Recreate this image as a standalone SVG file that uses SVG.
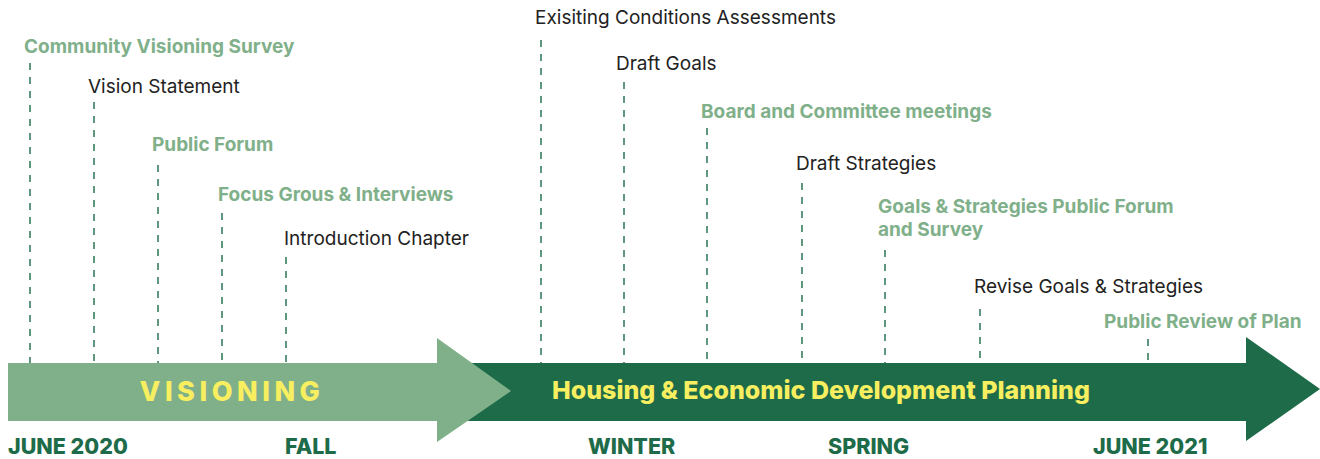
<svg xmlns="http://www.w3.org/2000/svg" width="1320" height="459" viewBox="0 0 1320 459">
<style>
.bg{fill:#ffffff}
.dash{stroke:#1d6b49;stroke-width:1.4;stroke-dasharray:7 7;fill:none}
.lb{font-family:Inter,"Noto Sans",sans-serif;font-size:19px;font-weight:700;fill:#80b08a}
.rg{font-family:Inter,"Noto Sans",sans-serif;font-size:19px;font-weight:400;fill:#222222}
.season{font-family:Inter,"Noto Sans",sans-serif;font-size:21.5px;font-weight:800;fill:#1d6b49}
.phase{font-family:Inter,"Noto Sans",sans-serif;font-weight:800;fill:#f7ee60}
</style>
<rect class="bg" x="0" y="0" width="1320" height="459"/>
<g id="arrow-planning">
<polygon points="440,363 1246,363 1246,337 1320,389 1246,441 1246,421 440,421" fill="#1d6b49"/>
<text class="phase" x="552" y="399" font-size="25">Housing &amp; Economic Development Planning</text>
</g>
<g id="arrow-visioning">
<polygon points="8,363 437,363 437,338 511,391 437,442 437,421 8,421" fill="#80b08a"/>
<text class="phase" x="232" y="401" font-size="27" letter-spacing="4.5" text-anchor="middle">VISIONING</text>
</g>
<g id="connectors">
<line class="dash" x1="30" y1="63" x2="30" y2="363"/>
<line class="dash" x1="94" y1="102" x2="94" y2="363"/>
<line class="dash" x1="158" y1="165" x2="158" y2="363"/>
<line class="dash" x1="222" y1="213" x2="222" y2="363"/>
<line class="dash" x1="286" y1="257" x2="286" y2="363"/>
<line class="dash" x1="541" y1="40" x2="541" y2="363"/>
<line class="dash" x1="624" y1="82" x2="624" y2="363"/>
<line class="dash" x1="707" y1="128" x2="707" y2="363"/>
<line class="dash" x1="802" y1="183" x2="802" y2="363"/>
<line class="dash" x1="885" y1="250" x2="885" y2="363"/>
<line class="dash" x1="980" y1="309" x2="980" y2="363"/>
<line class="dash" x1="1148" y1="339" x2="1148" y2="363"/>
</g>
<g id="m-community-survey"><text class="lb" x="24" y="53">Community Visioning Survey</text></g>
<g id="m-vision-statement"><text class="rg" x="88" y="93">Vision Statement</text></g>
<g id="m-public-forum"><text class="lb" x="152" y="151">Public Forum</text></g>
<g id="m-focus-groups"><text class="lb" x="218" y="201">Focus Grous &amp; Interviews</text></g>
<g id="m-introduction"><text class="rg" x="284" y="245">Introduction Chapter</text></g>
<g id="m-existing"><text class="rg" x="535" y="24">Exisiting Conditions Assessments</text></g>
<g id="m-draft-goals"><text class="rg" x="616" y="70">Draft Goals</text></g>
<g id="m-board"><text class="lb" x="701" y="118">Board and Committee meetings</text></g>
<g id="m-draft-strategies"><text class="rg" x="796" y="170">Draft Strategies</text></g>
<g id="m-gs-forum"><text class="lb" x="878" y="213">Goals &amp; Strategies Public Forum</text><text class="lb" x="878" y="236">and Survey</text></g>
<g id="m-revise"><text class="rg" x="974" y="293">Revise Goals &amp; Strategies</text></g>
<g id="m-public-review"><text class="lb" x="1104" y="328">Public Review of Plan</text></g>
<g id="seasons">
<text class="season" x="8" y="454">JUNE 2020</text>
<text class="season" x="285" y="454">FALL</text>
<text class="season" x="588" y="454">WINTER</text>
<text class="season" x="828" y="454">SPRING</text>
<text class="season" x="1093" y="454">JUNE 2021</text>
</g>
</svg>
